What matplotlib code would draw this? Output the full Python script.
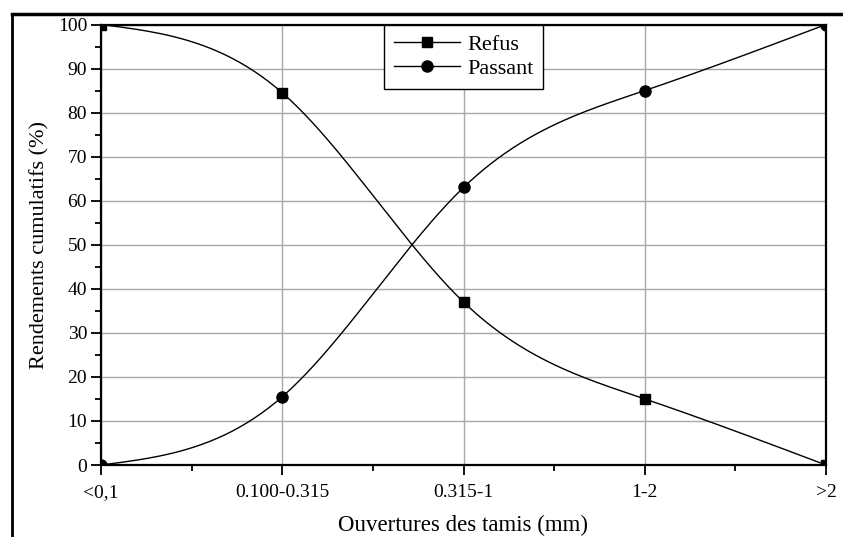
import numpy as np
import matplotlib
matplotlib.use("Agg")
import matplotlib.pyplot as plt
from matplotlib.lines import Line2D

categories = ["<0,1", "0.100-0.315", "0.315-1", "1-2", ">2"]
refus = [100, 84.5, 37, 15, 0]
passant = [0, 15.5, 63, 85, 100]


def natural_spline(x, y, n=200):
    """ natural cubic spline through the points, for a smooth connecting line """
    x = np.asarray(x, dtype=float)
    y = np.asarray(y, dtype=float)
    k = len(x)
    h = np.diff(x)
    A = np.zeros((k, k))
    b = np.zeros(k)
    A[0, 0] = A[-1, -1] = 1
    for i in range(1, k - 1):
        A[i, i - 1] = h[i - 1]
        A[i, i] = 2 * (h[i - 1] + h[i])
        A[i, i + 1] = h[i]
        b[i] = 3 * ((y[i + 1] - y[i]) / h[i] - (y[i] - y[i - 1]) / h[i - 1])
    c = np.linalg.solve(A, b)
    xs = np.linspace(x[0], x[-1], n)
    idx = np.clip(np.searchsorted(x, xs) - 1, 0, k - 2)
    dx = xs - x[idx]
    bb = (y[idx + 1] - y[idx]) / h[idx] - h[idx] * (2 * c[idx] + c[idx + 1]) / 3
    dd = (c[idx + 1] - c[idx]) / (3 * h[idx])
    ys = y[idx] + bb * dx + c[idx] * dx ** 2 + dd * dx ** 3
    return xs, ys


plt.rcParams['font.family'] = ['Liberation Serif', 'DejaVu Serif']

fig = plt.figure(figsize=(8.43, 5.37), dpi=100)
ax = fig.add_axes([101 / 843, 1 - 465 / 537, 725 / 843, 440.5 / 537])

x = np.arange(len(categories))

xs, ys = natural_spline(x, refus)
ax.plot(xs, ys, color='black', lw=1.0, zorder=3)
ax.plot(x, refus, ls='none', marker='s', ms=7.5, color='black', zorder=4)

xs, ys = natural_spline(x, passant)
ax.plot(xs, ys, color='black', lw=1.0, zorder=3)
ax.plot(x, passant, ls='none', marker='o', ms=8, color='black', zorder=4)

ax.set_xlim(0, 4)
ax.set_ylim(0, 100)
ax.set_xticks(x)
ax.set_xticklabels(categories)
ax.set_xticks(x[:-1] + 0.5, minor=True)
ax.set_yticks(np.arange(0, 101, 10))
ax.set_yticks(np.arange(5, 100, 10), minor=True)

ax.grid(True, which='major', color='#a8a8a8', lw=1.0)
ax.set_axisbelow(True)

for s in ax.spines.values():
    s.set_linewidth(1.6)
ax.tick_params(which='major', direction='out', length=7, width=1.3, labelsize=14, pad=3)
ax.tick_params(which='minor', direction='out', length=4.5, width=1.3)
ax.tick_params(axis='x', pad=7)

ax.set_xlabel("Ouvertures des tamis (mm)", fontsize=16.5, labelpad=10)
ax.set_ylabel("Rendements cumulatifs (%)", fontsize=16, labelpad=6)

handles = [
    Line2D([], [], color='black', lw=1.0, marker='s', ms=7.5),
    Line2D([], [], color='black', lw=1.0, marker='o', ms=8),
]
leg = ax.legend(handles, ["Refus", "Passant"], loc='upper center', bbox_to_anchor=(0.5, 1.0),
                borderaxespad=0, fontsize=16, frameon=True, fancybox=False, framealpha=1,
                edgecolor='black', handlelength=3.0, handletextpad=0.3, labelspacing=0.15,
                borderpad=0.45)
leg.get_frame().set_linewidth(1.0)

# outer frame (top and left edges of the cell)
fig.add_artist(Line2D([12 / 843, 1], [1 - 14 / 537, 1 - 14 / 537], color='black', lw=2.5))
fig.add_artist(Line2D([12 / 843, 12 / 843], [0, 1 - 14 / 537], color='black', lw=2.0))

fig.savefig("out.png", dpi=100)
